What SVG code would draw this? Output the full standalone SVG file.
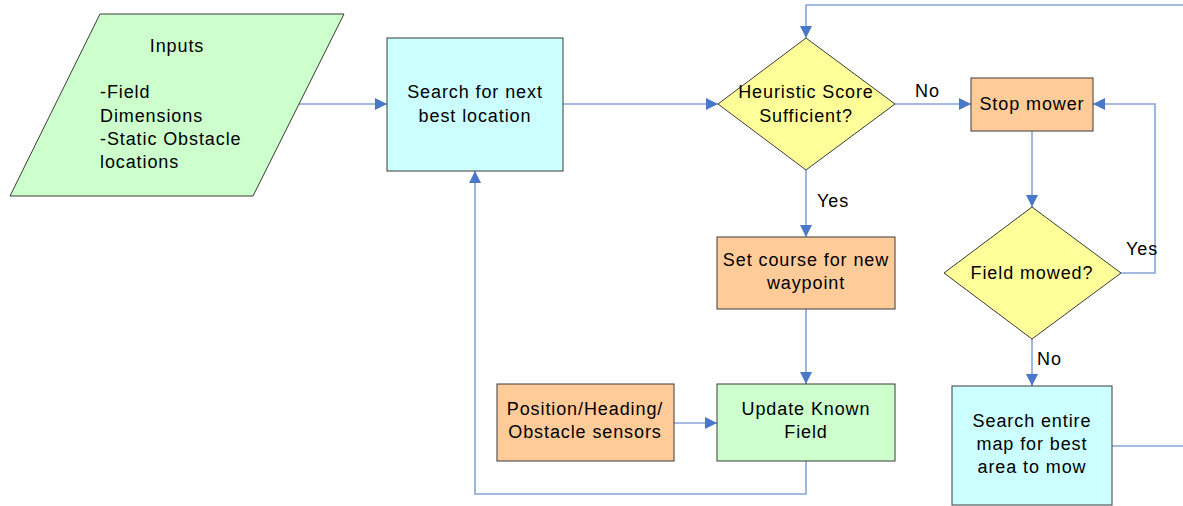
<svg xmlns="http://www.w3.org/2000/svg" width="1183" height="506" viewBox="0 0 1183 506">
  <defs>
    <marker id="arrow" viewBox="0 0 12 12" refX="12" refY="6" markerWidth="12" markerHeight="12" markerUnits="userSpaceOnUse" orient="auto">
      <path d="M0,0 L12,6 L0,12 Z" fill="#4a78c8"/>
    </marker>
    <style>
      .shape { stroke: #3a3a3a; stroke-width: 1; }
      .green { fill: #ccffcc; }
      .cyan { fill: #ccffff; }
      .yellow { fill: #ffff99; }
      .orange { fill: #ffcc99; }
      .flow { fill: none; stroke: #87a5d8; stroke-width: 1.6; }
      .flow.arr { marker-end: url(#arrow); }
      text { font-family: "Liberation Sans", Arial, sans-serif; font-size: 18px; letter-spacing: 0.9px; fill: #000; }
      .c { text-anchor: middle; }
    </style>
  </defs>
  <rect width="1183" height="506" fill="#ffffff"/>

  <!-- connectors -->
  <g id="connectors">
    <path class="flow arr" d="M299,104 H387"/>
    <path class="flow arr" d="M563,104 H718"/>
    <path class="flow arr" d="M1183,5 H806 V38"/>
    <path class="flow arr" d="M895,104 H971"/>
    <path class="flow arr" d="M806,170 V237"/>
    <path class="flow arr" d="M806,309 V384"/>
    <path class="flow arr" d="M674,423 H717"/>
    <path class="flow arr" d="M806,461 V494 H475 V171"/>
    <path class="flow arr" d="M1032,131 V207"/>
    <path class="flow arr" d="M1121,273 H1155 V104 H1093"/>
    <path class="flow arr" d="M1032,339 V386"/>
    <path class="flow" d="M1112,446 H1183"/>
    <text x="915" y="97">No</text>
    <text x="817" y="207">Yes</text>
    <text x="1126" y="255">Yes</text>
    <text x="1037" y="365">No</text>
  </g>

  <g id="inputs">
    <polygon class="shape green" points="100,14 344,14 253,196 10,196"/>
    <text class="c" x="177" y="52">Inputs</text>
    <text x="100" y="98">-Field</text>
    <text x="100" y="122">Dimensions</text>
    <text x="100" y="145">-Static Obstacle</text>
    <text x="100" y="168">locations</text>
  </g>

  <g id="search-next">
    <rect class="shape cyan" x="387" y="38" width="176" height="133"/>
    <text class="c" x="475" y="98">Search for next</text>
    <text class="c" x="475" y="122">best location</text>
  </g>

  <g id="heuristic">
    <polygon class="shape yellow" points="806,38 895,104 806,170 718,104"/>
    <text class="c" x="806" y="98">Heuristic Score</text>
    <text class="c" x="806" y="122">Sufficient?</text>
  </g>

  <g id="stop-mower">
    <rect class="shape orange" x="971" y="78" width="122" height="53"/>
    <text class="c" x="1032" y="110">Stop mower</text>
  </g>

  <g id="field-mowed">
    <polygon class="shape yellow" points="1032,207 1121,273 1032,339 944,273"/>
    <text class="c" x="1032" y="279">Field mowed?</text>
  </g>

  <g id="search-entire">
    <rect class="shape cyan" x="952" y="386" width="160" height="119"/>
    <text class="c" x="1032" y="427">Search entire</text>
    <text class="c" x="1032" y="450">map for best</text>
    <text class="c" x="1032" y="473">area to mow</text>
  </g>

  <g id="set-course">
    <rect class="shape orange" x="717" y="237" width="178" height="72"/>
    <text class="c" x="806" y="266">Set course for new</text>
    <text class="c" x="806" y="289">waypoint</text>
  </g>

  <g id="sensors">
    <rect class="shape orange" x="497" y="384" width="177" height="77"/>
    <text class="c" x="585" y="415">Position/Heading/</text>
    <text class="c" x="585" y="438">Obstacle sensors</text>
  </g>

  <g id="update-field">
    <rect class="shape green" x="717" y="384" width="178" height="77"/>
    <text class="c" x="806" y="415">Update Known</text>
    <text class="c" x="806" y="438">Field</text>
  </g>
</svg>
